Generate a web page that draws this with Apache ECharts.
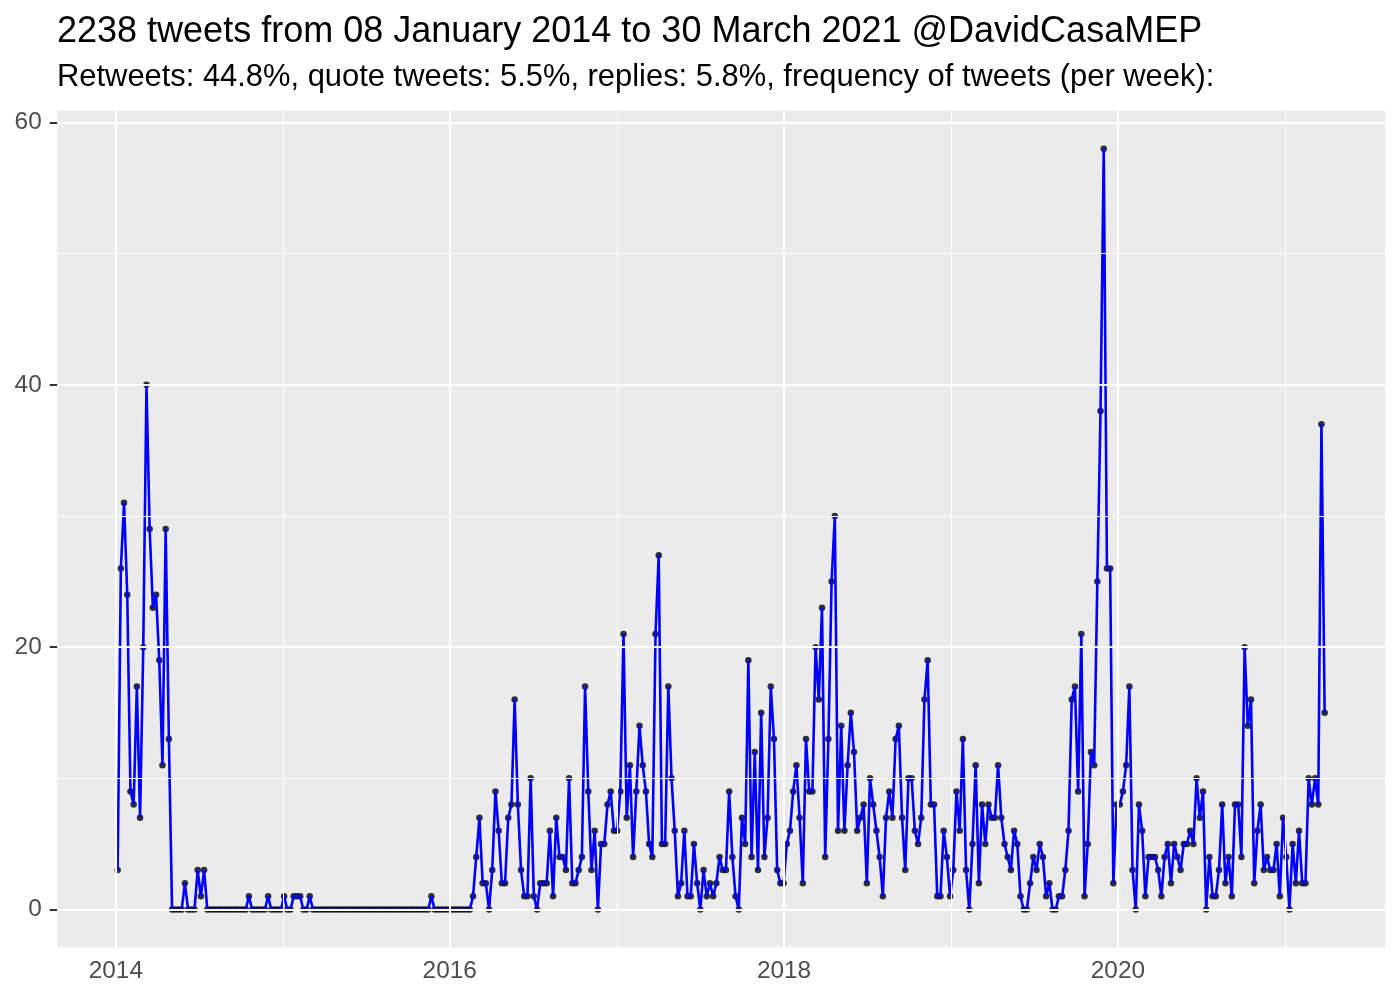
<!DOCTYPE html>
<html><head><meta charset="utf-8">
<script src="https://cdn.jsdelivr.net/npm/echarts@6/dist/echarts.min.js"></script>
<style>html,body{margin:0;padding:0;background:#fff}#c{width:1400px;height:1000px}</style>
</head><body><div id="c"></div>
<script>
// ---------- text ----------
const titleText = "2238 tweets from 08 January 2014 to 30 March 2021 @DavidCasaMEP";
const subtitleText = "Retweets: 44.8%, quote tweets: 5.5%, replies: 5.8%, frequency of tweets (per week):";

// ---------- weekly bins (weeks starting on Sunday) ----------
const firstWeekStart = "2014-01-05";

// ---------- tweets per week ----------
const countsEarly2014 = [3, 26, 31, 24, 9, 8, 17, 7, 20, 40, 29, 23, 24, 19, 11, 29, 13, 0];
const countsQuiet2014to2016 = [
  0, 0, 0, 2, 0, 0, 0, 3, 1, 3,
  0, 0, 0, 0, 0, 0, 0, 0, 0, 0, 0, 0, 0,
  1,
  0, 0, 0, 0, 0,
  1,
  0, 0, 0, 0,
  1, 0, 0, 1, 1, 1, 0, 0, 1,
  0, 0, 0, 0, 0, 0, 0, 0, 0, 0,
  0, 0, 0, 0, 0, 0, 0, 0, 0, 0,
  0, 0, 0, 0, 0, 0, 0, 0, 0, 0,
  0, 0, 0, 0, 0, 0, 0,
  1,
  0, 0, 0, 0, 0, 0, 0, 0, 0, 0, 0, 0
];
const counts2016 = [1, 4, 7, 2, 2, 0, 3, 9, 6, 2, 2, 7, 8, 16, 8, 3, 1, 1, 10, 1, 0, 2, 2, 2, 6, 1, 7, 4, 4, 3, 10, 2, 2, 3, 4, 17];
const counts2016to2017 = [9, 3, 6, 0, 5, 5, 8, 9, 6, 6, 9, 21, 7, 11, 4, 9, 14, 11, 9, 5, 4, 21, 27, 5, 5, 17, 10, 6, 1, 2, 6, 1, 1, 5, 2, 0, 3, 1, 2, 1];
const counts2017to2018 = [2, 4, 3, 3, 9, 4, 1, 0, 7, 5, 19, 4, 12, 3, 15, 4, 7, 17, 13, 3, 2, 2, 5, 6, 9, 11, 7, 2, 13, 9, 9, 20, 16, 23, 4, 13, 25, 30, 6, 14];
const counts2018to2019 = [6, 11, 15, 12, 6, 7, 8, 2, 10, 8, 6, 4, 1, 7, 9, 7, 13, 14, 7, 3, 10, 10, 6, 5, 7, 16, 19, 8, 8, 1, 1, 6, 4, 1, 3, 9, 6, 13, 3];
const counts2019 = [0, 5, 11, 2, 8, 5, 8, 7, 7, 11, 7, 5, 4, 3, 6, 5, 1, 0, 0, 2, 4, 3, 5, 4, 1, 2, 0, 0, 1, 1, 3, 6, 16, 17, 9, 21, 1, 5, 12];
const countsLate2019 = [11, 25, 38, 58, 26, 26, 2, 8, 8, 9, 11, 17, 3, 0];
const counts2020 = [8, 6, 1, 4, 4, 4, 3, 1, 4, 5, 2, 5, 4, 3, 5, 5, 6, 5, 10, 7, 9, 0, 4, 1, 1, 3, 8, 2, 4, 1, 8, 8, 4, 20, 14, 16];
const counts2020to2021 = [2, 6, 8, 3, 4, 3, 3, 5, 1, 7, 4, 0, 5, 2, 6, 2, 2, 10, 8, 10, 8, 37, 15];

// ---------- axis breaks ----------
const yMajorTicks = [0, 20, 40, 60];
const yMinorTicks = [10, 30, 50];
const xMajorYears = [2014, 2016, 2018, 2020];
const xMinorYears = [2015, 2017, 2019, 2021];

// ---------- build ----------
const counts = [].concat(countsEarly2014, countsQuiet2014to2016, counts2016, counts2016to2017,
  counts2017to2018, counts2018to2019, counts2019, countsLate2019, counts2020, counts2020to2021);
const DAY = 86400000, WEEK = 7 * DAY;
const t0 = Date.parse(firstWeekStart + "T00:00:00Z");
const seriesData = counts.map((v, i) => [t0 + i * WEEK, v]);

const xFirst = seriesData[0][0], xLast = seriesData[seriesData.length - 1][0];
const xPad = (xLast - xFirst) * 0.05;
const yMaxData = Math.max.apply(null, counts), yMinData = Math.min.apply(null, counts);
const yPad = (yMaxData - yMinData) * 0.05;
const yr = y => Date.UTC(y, 0, 1);

const gridLines = [];
yMajorTicks.forEach(v => gridLines.push({ yAxis: v, lineStyle: { color: '#FFFFFF', width: 2.1, type: 'solid' } }));
yMinorTicks.forEach(v => gridLines.push({ yAxis: v, lineStyle: { color: '#FFFFFF', width: 1.05, type: 'solid' } }));
xMajorYears.forEach(y => gridLines.push({ xAxis: yr(y), lineStyle: { color: '#FFFFFF', width: 2.1, type: 'solid' } }));
xMinorYears.forEach(y => gridLines.push({ xAxis: yr(y), lineStyle: { color: '#FFFFFF', width: 1.05, type: 'solid' } }));

const font = '"Liberation Sans", Arial, Helvetica, sans-serif';
const chart = echarts.init(document.getElementById('c'), null, { renderer: 'canvas' });
chart.setOption({
  animation: false,
  backgroundColor: '#FFFFFF',
  title: [
    { text: titleText, left: 57, top: 14, padding: 0,
      textStyle: { fontFamily: font, fontSize: 36, fontWeight: 'normal', color: '#000000', lineHeight: 36 } },
    { text: subtitleText, left: 57, top: 62, padding: 0,
      textStyle: { fontFamily: font, fontSize: 30.9, fontWeight: 'normal', color: '#000000', lineHeight: 31 } }
  ],
  grid: { left: 57.3, top: 110.7, width: 1327.7, height: 836.8, show: true,
          backgroundColor: '#EBEBEB', borderWidth: 0 },
  xAxis: {
    type: 'value', min: xFirst - xPad, max: xLast + xPad,
    axisLine: { show: false },
    splitLine: { show: false },
    axisTick: { show: true, length: 7.6, lineStyle: { color: '#333333', width: 2 },
                customValues: xMajorYears.map(yr) },
    axisLabel: { show: true, customValues: xMajorYears.map(yr), margin: 12,
                 fontFamily: font, fontSize: 24.4, color: '#4D4D4D', lineHeight: 24,
                 formatter: v => String(new Date(v).getUTCFullYear()) }
  },
  yAxis: {
    type: 'value', min: yMinData - yPad, max: yMaxData + yPad,
    axisLine: { show: false },
    splitLine: { show: false },
    axisTick: { show: true, length: 7.6, lineStyle: { color: '#333333', width: 2 },
                customValues: yMajorTicks },
    axisLabel: { show: true, customValues: yMajorTicks, margin: 15.6,
                 fontFamily: font, fontSize: 24.4, color: '#4D4D4D',
                 formatter: v => String(v) }
  },
  series: [
    { type: 'line', data: [], z: 1, silent: true,
      markLine: { silent: true, symbol: ['none', 'none'], label: { show: false },
                  animation: false, data: gridLines } },
    { type: 'scatter', data: seriesData, z: 3, symbol: 'circle', symbolSize: 6.5,
      itemStyle: { color: '#000000' }, silent: true },
    { type: 'line', data: seriesData, z: 4, showSymbol: false, symbol: 'none',
      lineStyle: { color: '#0000FF', width: 2.6 }, silent: true }
  ]
});
</script></body></html>
